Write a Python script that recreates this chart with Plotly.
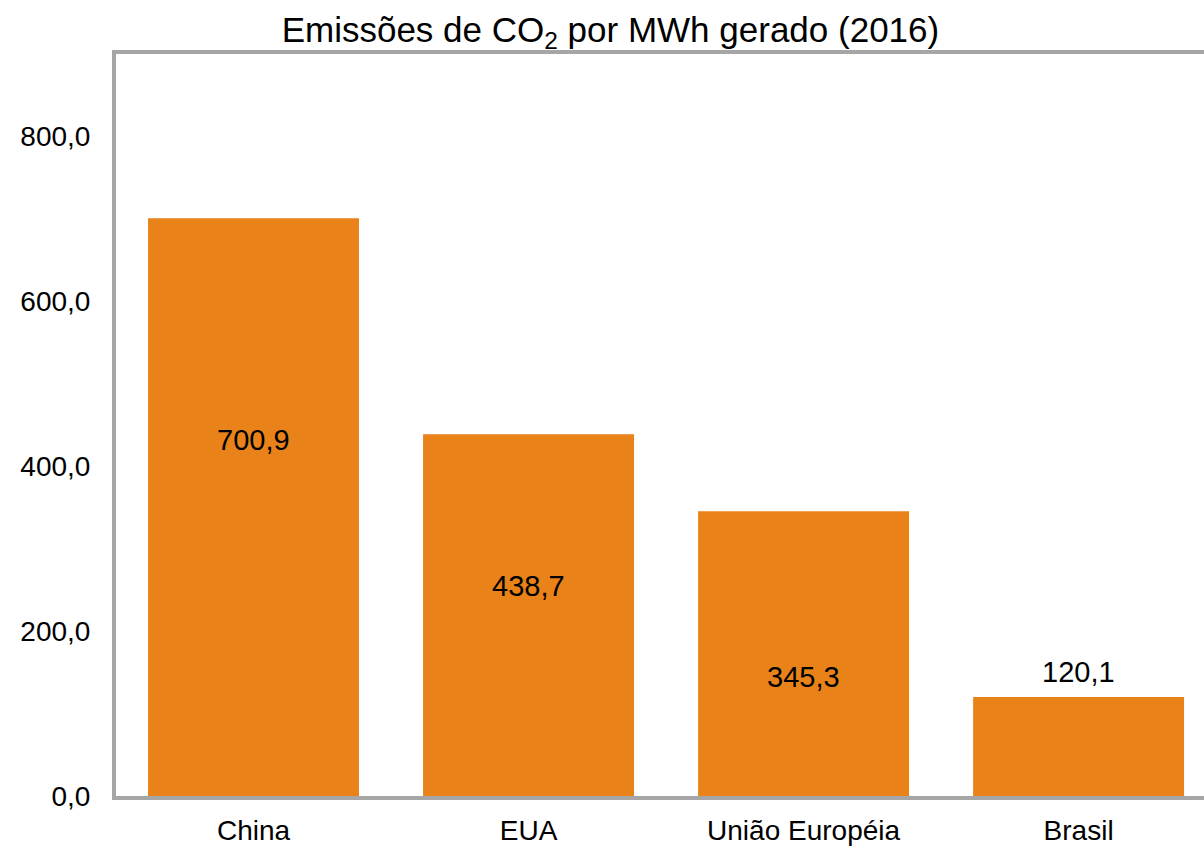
import plotly.graph_objects as go

categories = ["China", "EUA", "União Européia", "Brasil"]
values = [700.9, 438.7, 345.3, 120.1]
value_labels = ["700,9", "438,7", "345,3", "120,1"]
label_y = [432, 255, 144, 151]  # label anchor heights as placed in the original chart
tick_vals = [0, 200, 400, 600, 800]
tick_text = ["0,0", "200,0", "400,0", "600,0", "800,0"]

FONT = "Liberation Sans, Arial, sans-serif"
ORANGE = "#E98218"
GRAY = "#A6A6A6"

fig = go.Figure()
fig.add_trace(go.Bar(
    x=categories, y=values, width=0.767,
    marker=dict(color=ORANGE, line=dict(width=0)),
    hoverinfo="x+y",
))
for c, t, ly in zip(categories, value_labels, label_y):
    fig.add_annotation(x=c, y=ly, text=t, showarrow=False,
                       font=dict(family=FONT, size=29, color="#000000"),
                       xanchor="center", yanchor="middle")

fig.update_layout(
    width=1204, height=846,
    margin=dict(l=116, r=0, t=54, b=50, autoexpand=False),
    paper_bgcolor="white", plot_bgcolor="white",
    showlegend=False,
    title=dict(text="Emissões de CO<sub>2</sub> por MWh gerado (2016)",
               x=0.507, xanchor="center", y=0.965, yanchor="middle",
               font=dict(family=FONT, size=35, color="#000000")),
    font=dict(family=FONT, size=28, color="#000000"),
    bargap=0.233,
)
fig.update_xaxes(range=[-0.5, 3.456], showline=True, linewidth=4, linecolor=GRAY,
                 mirror=True, showgrid=False, zeroline=False, automargin=False,
                 tickfont=dict(family=FONT, size=28, color="#000000"),
                 ticks="", ticklabelstandoff=6)
fig.update_yaxes(range=[0, 900], showline=True, linewidth=4, linecolor=GRAY,
                 mirror=False, showgrid=False, zeroline=False, automargin=False,
                 tickvals=tick_vals, ticktext=tick_text,
                 tickfont=dict(family=FONT, size=28, color="#000000"),
                 ticks="", ticklabelstandoff=16)

fig.write_html("out.html", config={"displayModeBar": False})

# remove the browser's default page margin so the figure sits at the window origin
with open("out.html", "r", encoding="utf-8") as f:
    html = f.read()
html = html.replace("<body>", '<body style="margin:0;padding:0;overflow:hidden">', 1)
with open("out.html", "w", encoding="utf-8") as f:
    f.write(html)
